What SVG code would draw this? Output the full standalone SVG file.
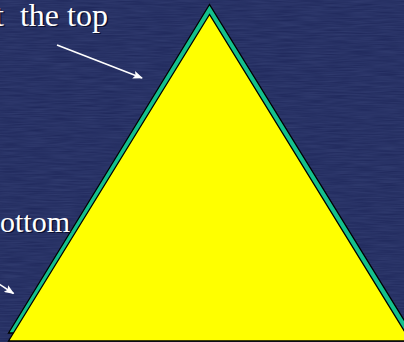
<svg xmlns="http://www.w3.org/2000/svg" width="404" height="342" viewBox="0 0 404 342">
  <style>
    .lbl { font-family: "Liberation Serif", "Times New Roman", serif; fill: #ffffff; }
    .shd { font-family: "Liberation Serif", "Times New Roman", serif; fill: #0c1030; }
    .arrow { stroke: #ffffff; stroke-width: 1.6; fill: none; marker-end: url(#ah); }
  </style>
  <defs>
    <marker id="ah" markerWidth="10" markerHeight="8" refX="9" refY="4" orient="auto" markerUnits="userSpaceOnUse">
      <polygon points="0,0 10,4 0,8 2,4" fill="#ffffff"/>
    </marker>
    <filter id="tex" x="0" y="0" width="100%" height="100%">
      <feTurbulence type="fractalNoise" baseFrequency="0.04 0.7" numOctaves="2" seed="3" result="n"/>
      <feColorMatrix in="n" type="matrix" values="0 0 0 0 0.10  0 0 0 0 0.14  0 0 0 0 0.34  0 0 0 0.5 0"/>
    </filter>
  </defs>
  <rect id="background" x="0" y="0" width="404" height="342" fill="#1e275a"/>
  <rect x="0" y="0" width="404" height="342" filter="url(#tex)" opacity="0.7"/>

  <g id="triangle">
    <polygon points="209.5,4.5 8.5,333 412,333" fill="#14c08c" stroke="#000000" stroke-width="1.3" stroke-linejoin="miter"/>
    <polygon points="209.5,14.5 8.5,341 410.5,341" fill="#ffff00" stroke="#000000" stroke-width="1.3" stroke-linejoin="miter"/>
  </g>

  <g id="label-top" font-size="32">
    <text class="shd" x="-3.5" y="27" xml:space="preserve">t  the top</text>
    <text class="lbl" x="-5" y="25.5" xml:space="preserve">t  the top</text>
  </g>
  <g id="label-bottom" font-size="30">
    <text class="shd" x="1.5" y="233">ottom</text>
    <text class="lbl" x="0" y="231.5">ottom</text>
  </g>

  <g id="connectors">
    <line class="arrow" x1="57" y1="45" x2="142" y2="78"/>
    <line class="arrow" x1="-1" y1="284" x2="13.5" y2="293.5"/>
  </g>
</svg>
